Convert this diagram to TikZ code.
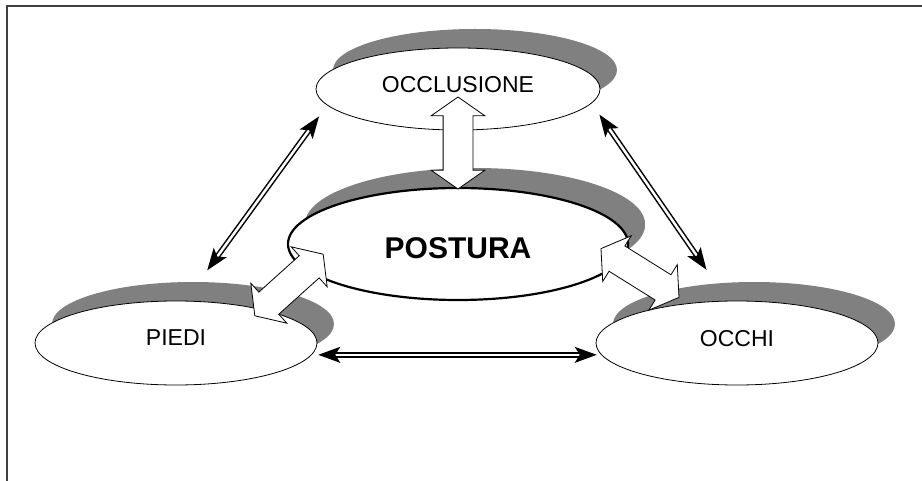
\documentclass[tikz,border=0pt]{standalone}
\usepackage{fontspec}
\setmainfont{Liberation Sans}
\usetikzlibrary{positioning,shapes.geometric,shapes.arrows,shadows,arrows.meta}

\begin{document}
\begin{tikzpicture}[x=1pt, y=-1pt,
	bubble/.style={ellipse, draw=black, line width=0.8pt, fill=white, inner sep=0, outer sep=0,
		minimum width=282pt, minimum height=84pt, text depth=10pt, font=\fontsize{23}{27}\selectfont,
		drop shadow={shadow xshift=17pt, shadow yshift=19pt, fill=black!50, opacity=1}},
	block/.style={double arrow, draw=black, line width=0.8pt, fill=white, inner sep=0,
		text height=14.5pt, text depth=14.5pt, text width=0pt,
		minimum height=92pt, double arrow head extend=12pt, double arrow tip angle=110},
	link/.style={{Stealth[length=22pt, width=16pt, inset=5pt]}-{Stealth[length=22pt, width=16pt, inset=5pt]},
		line width=1.5pt, double=white, double distance=2.5pt}]
\useasboundingbox (0,0) rectangle (922,481);
\draw[line width=1.5pt, black!75] (7,481) -- (7,6) -- (922,6);

\node[bubble, minimum width=284pt, minimum height=82pt] (occl) at (458,89) {OCCLUSIONE};
\node[bubble, minimum width=340pt, minimum height=112pt, line width=2.2pt, text depth=0pt, text height=29pt,
	font=\fontsize{30}{34}\selectfont\bfseries,
	drop shadow={shadow xshift=17pt, shadow yshift=20pt, fill=black!50, opacity=1}] (post) at (458,244) {POSTURA};
\node[bubble] (piedi) at (176,343) {PIEDI};
\node[bubble] (occhi) at (737,343) {OCCHI};

\node[block, rotate=90] (bOP) at (458,143) {};
\node[block, rotate=42] (bPP) at (289,285) {};
\node[block, rotate=-32] (bPO) at (640,273) {};

\draw[link, shorten <=38pt, shorten >=14pt] (piedi.78) -- (occl.-173.5);
\draw[link, shorten <=38pt, shorten >=14pt] (occhi.102) -- (occl.-6.5);
\draw[link, shorten <=7pt, shorten >=5pt] (piedi.-5) -- (occhi.-175);
\end{tikzpicture}
\end{document}
